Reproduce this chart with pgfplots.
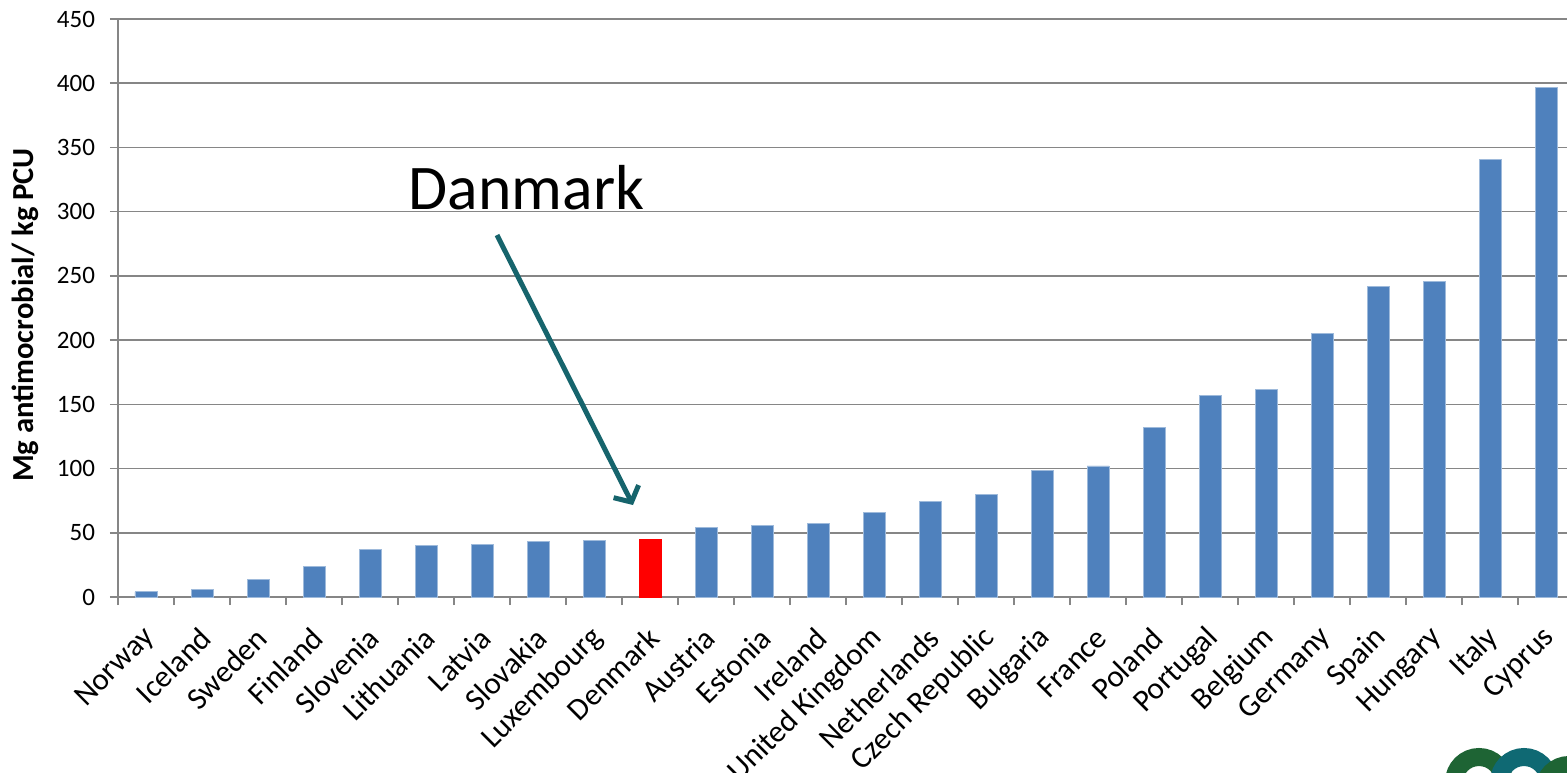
\documentclass[border=0pt]{standalone}
\usepackage{pgfplots}
\pgfplotsset{compat=1.18}
\usepackage{fontspec}
\setmainfont{Carlito}
\usetikzlibrary{arrows.meta}
\definecolor{barblue}{RGB}{79,129,189}
\definecolor{gridgray}{RGB}{134,134,134}
\definecolor{arrowteal}{RGB}{22,100,108}
\definecolor{logogreen}{RGB}{30,100,52}
\definecolor{logoteal}{RGB}{15,105,115}
\begin{document}
\begin{tikzpicture}
\begin{axis}[
  scale only axis, width=724.5pt, height=289pt,
  xmin=-0.5, xmax=25.375, ymin=0, ymax=450,
  axis lines*=left,
  axis line style={gridgray, line width=0.8pt},
  tick style={gridgray, line width=0.8pt},
  tick align=outside,
  major tick length=4pt,
  ytick={0,50,...,450},
  ymajorgrids, grid style={gridgray, line width=0.8pt},
  xtick={-0.5,0.5,...,24.5},
  xticklabels={Norway,Iceland,Sweden,Finland,Slovenia,Lithuania,Latvia,Slovakia,Luxembourg,Denmark,Austria,Estonia,Ireland,United Kingdom,Netherlands,Czech Republic,Bulgaria,France,Poland,Portugal,Belgium,Germany,Spain,Hungary,Italy,Cyprus},
  xticklabel style={font=\fontsize{15.5}{18}\selectfont, inner sep=0pt, xshift=16pt, yshift=-14pt, rotate=45, anchor=east},
  yticklabel style={font=\fontsize{12.5}{15}\selectfont, xshift=-4pt},
  /pgf/number format/assume math mode=true,
  ylabel={\bfseries Mg antimocrobial/ kg PCU},
  ylabel style={font=\fontsize{15.3}{18}\selectfont, at={(axis description cs:-0.064,0.488)}, rotate=0, anchor=center},
  clip=false,
]
\addplot[ybar, bar width=11pt, bar shift=0pt, fill=barblue, draw=barblue!55!white, line width=0.4pt]
coordinates {(0,4) (1,6) (2,14) (3,24) (4,37) (5,40) (6,41) (7,43) (8,44)
 (10,54) (11,55.5) (12,57.5) (13,66) (14,74.5) (15,79.5) (16,98.5) (17,102)
 (18,132) (19,157) (20,161.5) (21,205) (22,242) (23,245.5) (24,341) (25,396.5)};
\addplot[ybar, bar width=11pt, bar shift=0pt, fill=red, draw=red, line width=0.4pt]
coordinates {(9,44.5)};
\node[font=\fontsize{31.8}{38}\selectfont, anchor=base] at (axis cs:6.795,302) {Danmark};
\draw[arrowteal, line width=2.5pt, -{Straight Barb[length=6pt,width=14pt]}] (axis cs:6.268,281.8) -- (axis cs:8.696,71.6);
\end{axis}
\draw[logogreen, line width=9pt] (680.5pt,-92.5pt) circle[radius=12.5pt];
\draw[logoteal, line width=9pt] (703pt,-92.5pt) circle[radius=12.5pt];
\draw[logogreen, line width=9pt] (725.5pt,-96.5pt) circle[radius=12.5pt];
\pgfresetboundingbox
\path[use as bounding box] (-59pt,-87.5pt) rectangle (724.5pt,298.5pt);
\end{tikzpicture}
\end{document}
